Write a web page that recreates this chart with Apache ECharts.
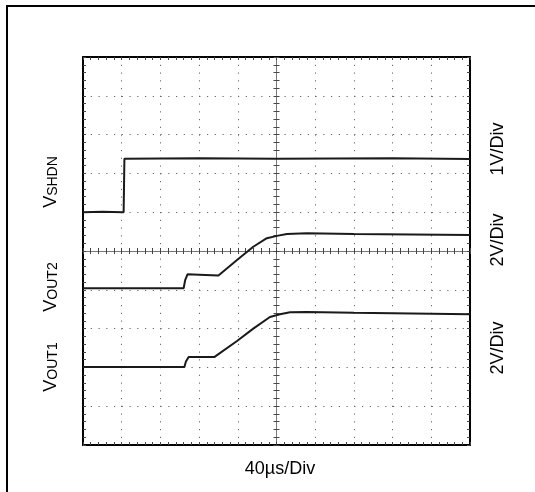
<!DOCTYPE html>
<html>
<head>
<meta charset="utf-8">
<script src="https://cdn.jsdelivr.net/npm/echarts@6/dist/echarts.min.js"></script>
<style>
html,body{margin:0;padding:0;background:#fff;}
#wrap{position:relative;width:535px;height:492px;overflow:hidden;}
#frame{position:absolute;left:6px;top:5px;width:600px;height:600px;border-top:2px solid #000;border-left:2px solid #000;}
#chart{position:absolute;left:0;top:0;width:535px;height:492px;}
</style>
</head>
<body>
<div id="wrap"><div id="frame"></div><div id="chart"></div></div>
<script>
// Divisions (10 x 10 screen)
var xDivs = [0, 10];
var yDivs = [0, 10];
// Traces in screen divisions (x: time div, y: vertical div from bottom)
var vshdn = [[0,6.0],[0.5,6.01],[1.05,6.0],[1.07,7.38],[3,7.39],[5,7.38],[8,7.39],[10,7.37]];
var vout2 = [[0,4.04],[1.5,4.04],[2.60,4.04],[2.64,4.25],[2.70,4.40],[3.0,4.39],[3.50,4.37],[3.98,4.77],[4.40,5.11],[4.75,5.33],[5.01,5.39],[5.27,5.44],[5.78,5.46],[7,5.44],[10,5.41]];
var vout1 = [[0,2.01],[1.5,2.01],[2.62,2.01],[2.66,2.15],[2.73,2.27],[3.0,2.27],[3.40,2.27],[3.98,2.68],[4.40,3.00],[4.83,3.30],[5.09,3.37],[5.35,3.42],[5.78,3.43],[7,3.41],[10,3.37]];

var FONT = "'Liberation Sans', Arial, sans-serif";
var chart = echarts.init(document.getElementById('chart'), null, {renderer:'canvas'});

var gl = 83, gt = 57, gw = 387, gh = 388;
var border = {show:true, onZero:false, lineStyle:{color:'#000', width:2}};
var tickStyle = {color:'#444', width:1};

function ax(type, pos, offset, inside, opts){
  return Object.assign({
    type:'value', min:(type==='x'?xDivs:yDivs)[0], max:(type==='x'?xDivs:yDivs)[1], interval:1, position:pos, offset:offset,
    axisLine:{show:false, onZero:false},
    axisTick:{show:true, inside:inside, length:3, lineStyle:tickStyle},
    minorTick:{show:true, splitNumber:5, length:3, lineStyle:tickStyle},
    axisLabel:{show:false}, splitLine:{show:false}
  }, opts||{});
}
var dotted = {show:true, lineStyle:{color:'#666', width:1, type:[1.2,6.55]}};
var centerLine = {show:true, onZero:false, lineStyle:{color:'#777', width:1}};

function series(d){
  return {type:'line', data:d, showSymbol:false, symbol:'none', xAxisIndex:0, yAxisIndex:0,
    lineStyle:{color:'#1a1a1a', width:2}, animation:false, z:5};
}
function vlabel(sub, x, y){
  return {type:'text', x:x, y:y, rotation:Math.PI/2, z:10,
    style:{text:'{a|V}{b|'+sub+'}', align:'center', verticalAlign:'middle', fill:'#000',
      rich:{a:{fontSize:18, fontFamily:FONT, fill:'#000', verticalAlign:'bottom'},
            b:{fontSize:14, fontFamily:FONT, fill:'#000', verticalAlign:'bottom'}}}};
}
function rlabel(t, x, y, rot){
  return {type:'text', x:x, y:y, rotation:rot, z:10,
    style:{text:t, font:'18px '+FONT, fill:'#000', align:'center', verticalAlign:'middle'}};
}

chart.setOption({
  animation:false,
  grid:{left:gl, top:gt, width:gw, height:gh, show:false, containLabel:false},
  xAxis:[
    ax('x','bottom', 0, true, {splitLine:dotted, axisLine:border}),
    ax('x','top', 0, true, {axisLine:border}),
    ax('x','bottom', -gh/2, true, {axisLine:centerLine}),
    ax('x','bottom', -gh/2, false)
  ],
  yAxis:[
    ax('y','left', 0, true, {splitLine:dotted, axisLine:border}),
    ax('y','right', 0, true, {axisLine:border}),
    ax('y','left', -gw/2, true, {axisLine:centerLine}),
    ax('y','left', -gw/2, false)
  ],
  series:[series(vshdn), series(vout2), series(vout1)],
  graphic:[
    vlabel('SHDN', 51, 182),
    vlabel('OUT2', 51, 287),
    vlabel('OUT1', 51, 367),
    rlabel('1V/Div', 498, 149, Math.PI/2),
    rlabel('2V/Div', 498, 240, Math.PI/2),
    rlabel('2V/Div', 498, 348, Math.PI/2),
    rlabel('40µs/Div', 280, 469, 0)
  ]
});
</script>
</body>
</html>
